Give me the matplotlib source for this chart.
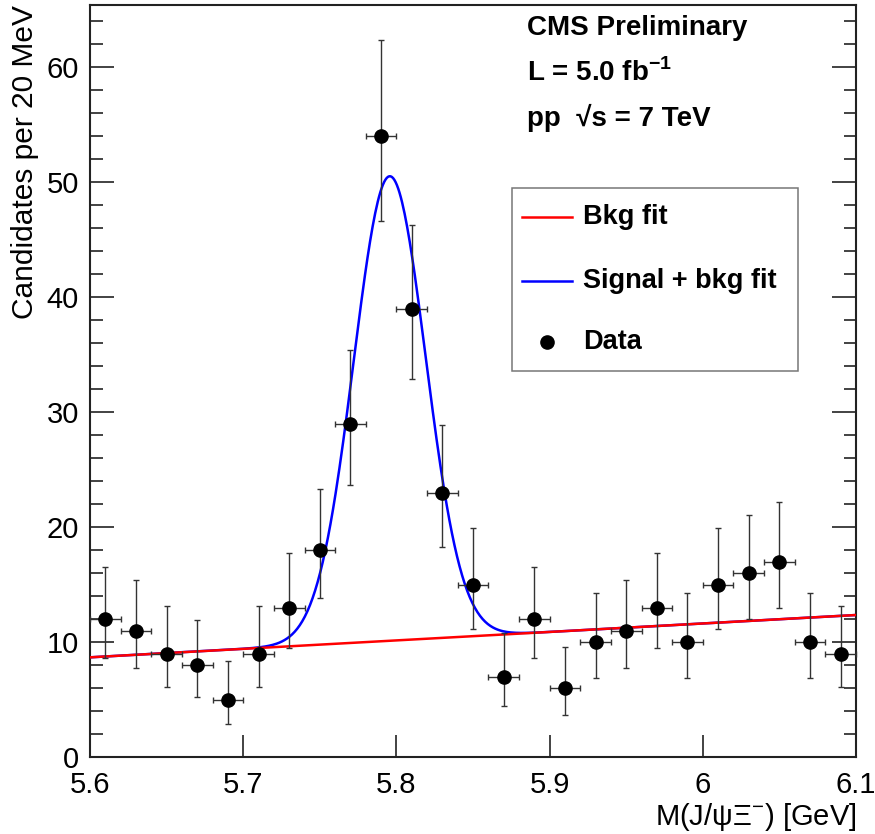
import matplotlib
matplotlib.use("Agg")
import matplotlib.pyplot as plt
from matplotlib.patches import Rectangle
import numpy as np

plt.rcParams['font.family'] = ['Liberation Sans', 'DejaVu Sans']
plt.rcParams['mathtext.fontset'] = 'custom'
plt.rcParams['mathtext.rm'] = 'Liberation Sans'
plt.rcParams['mathtext.bf'] = 'Liberation Sans:bold'

# data: 20 MeV bins
mass = [5.61, 5.63, 5.65, 5.67, 5.69, 5.71, 5.73, 5.75, 5.77, 5.79, 5.81, 5.83, 5.85,
        5.87, 5.89, 5.91, 5.93, 5.95, 5.97, 5.99, 6.01, 6.03, 6.05, 6.07, 6.09]
counts = [12, 11, 9, 8, 5, 9, 13, 18, 29, 54, 39, 23, 15, 7, 12, 6, 10, 11, 13, 10, 15, 16, 17, 10, 9]
err_lo = [3.42, 3.27, 2.94, 2.77, 2.16, 2.94, 3.56, 4.20, 5.30, 7.40, 6.10, 4.74, 3.83,
          2.58, 3.42, 2.38, 3.11, 3.27, 3.56, 3.11, 3.83, 3.96, 4.08, 3.11, 2.94]
err_hi = [4.56, 4.42, 4.11, 3.95, 3.38, 4.11, 4.70, 5.32, 6.44, 8.40, 7.30, 5.86, 4.96,
          3.77, 4.56, 3.58, 4.27, 4.42, 4.70, 4.27, 4.96, 5.08, 5.20, 4.27, 4.11]
half_bin = 0.01

# fit parameters
bkg_at_start = 8.67
bkg_slope = 7.36
sig_amp = 40.4
sig_mean = 5.7956
sig_sigma = 0.0235

fig = plt.figure(figsize=(8.75, 8.34), dpi=100)
ax = fig.add_axes([0.1029, 0.0923, 0.8754, 0.9017])

xx = np.linspace(5.6, 6.1, 600)
bkg = bkg_at_start + bkg_slope * (xx - 5.6)
total = bkg + sig_amp * np.exp(-0.5 * ((xx - sig_mean) / sig_sigma) ** 2)

ax.plot(xx, total, color='#0000ff', lw=1.8, zorder=2)
ax.plot(xx, bkg, color='#ff0000', lw=1.8, zorder=3)
ax.errorbar(mass, counts, yerr=[err_lo, err_hi], xerr=half_bin, fmt='o', color='black',
            ecolor='#333333', elinewidth=1.0, capsize=2.2, capthick=1.0, ms=9.5, zorder=4,
            clip_on=False)

ax.set_xlim(5.6, 6.1)
ax.set_ylim(0, 65.4)
ax.set_xticks([5.6, 5.7, 5.8, 5.9, 6.0, 6.1])
ax.set_xticklabels(['5.6', '5.7', '5.8', '5.9', '6', '6.1'])
ax.set_yticks(np.arange(0, 61, 10))
ax.set_yticks(np.arange(0, 65, 2), minor=True)
ax.tick_params(axis='both', which='both', direction='in', labelsize=21, width=1.2, color='#222222')
ax.tick_params(axis='y', which='major', length=17, right=True, pad=8)
ax.tick_params(axis='y', which='minor', length=9, right=True)
ax.tick_params(axis='x', which='major', length=16, pad=10)
for s in ax.spines.values():
    s.set_linewidth(1.5)
    s.set_color('#222222')

ax.set_xlabel('M(J/ψΞ$^{-}$) [GeV]', fontsize=21, loc='right')
ax.xaxis.set_label_coords(1.0, -0.058)
ax.set_ylabel('Candidates per 20 MeV', fontsize=21.5, loc='top')
ax.yaxis.set_label_coords(-0.066, 1.0)

ax.text(0.5705, 0.969, 'CMS Preliminary', transform=ax.transAxes, fontsize=20,
        fontweight='bold', va='center', ha='left')
ax.text(0.5705, 0.9096, r'L = 5.0 fb$^{\mathbf{-1}}$', transform=ax.transAxes, fontsize=20,
        fontweight='bold', va='center', ha='left')
ax.text(0.5705, 0.8497, 'pp  √s = 7 TeV', transform=ax.transAxes, fontsize=20,
        fontweight='bold', va='center', ha='left')

# legend box
ax.add_patch(Rectangle((0.551, 0.513), 0.373, 0.244, transform=ax.transAxes,
                       fill=False, edgecolor='#777777', lw=1.1, zorder=5))
ax.plot([0.564, 0.629], [0.718, 0.718], color='#ff0000', lw=1.8, transform=ax.transAxes)
ax.plot([0.564, 0.629], [0.633, 0.633], color='#0000ff', lw=1.8, transform=ax.transAxes)
ax.plot([0.5966], [0.552], 'o', color='black', ms=9.5, transform=ax.transAxes)
for ly, lab in [(0.718, 'Bkg fit'), (0.633, 'Signal + bkg fit'), (0.552, 'Data')]:
    ax.text(0.6436, ly, lab, transform=ax.transAxes, fontsize=19.5, fontweight='bold',
            va='center', ha='left')

fig.savefig('out.png', dpi=100)
